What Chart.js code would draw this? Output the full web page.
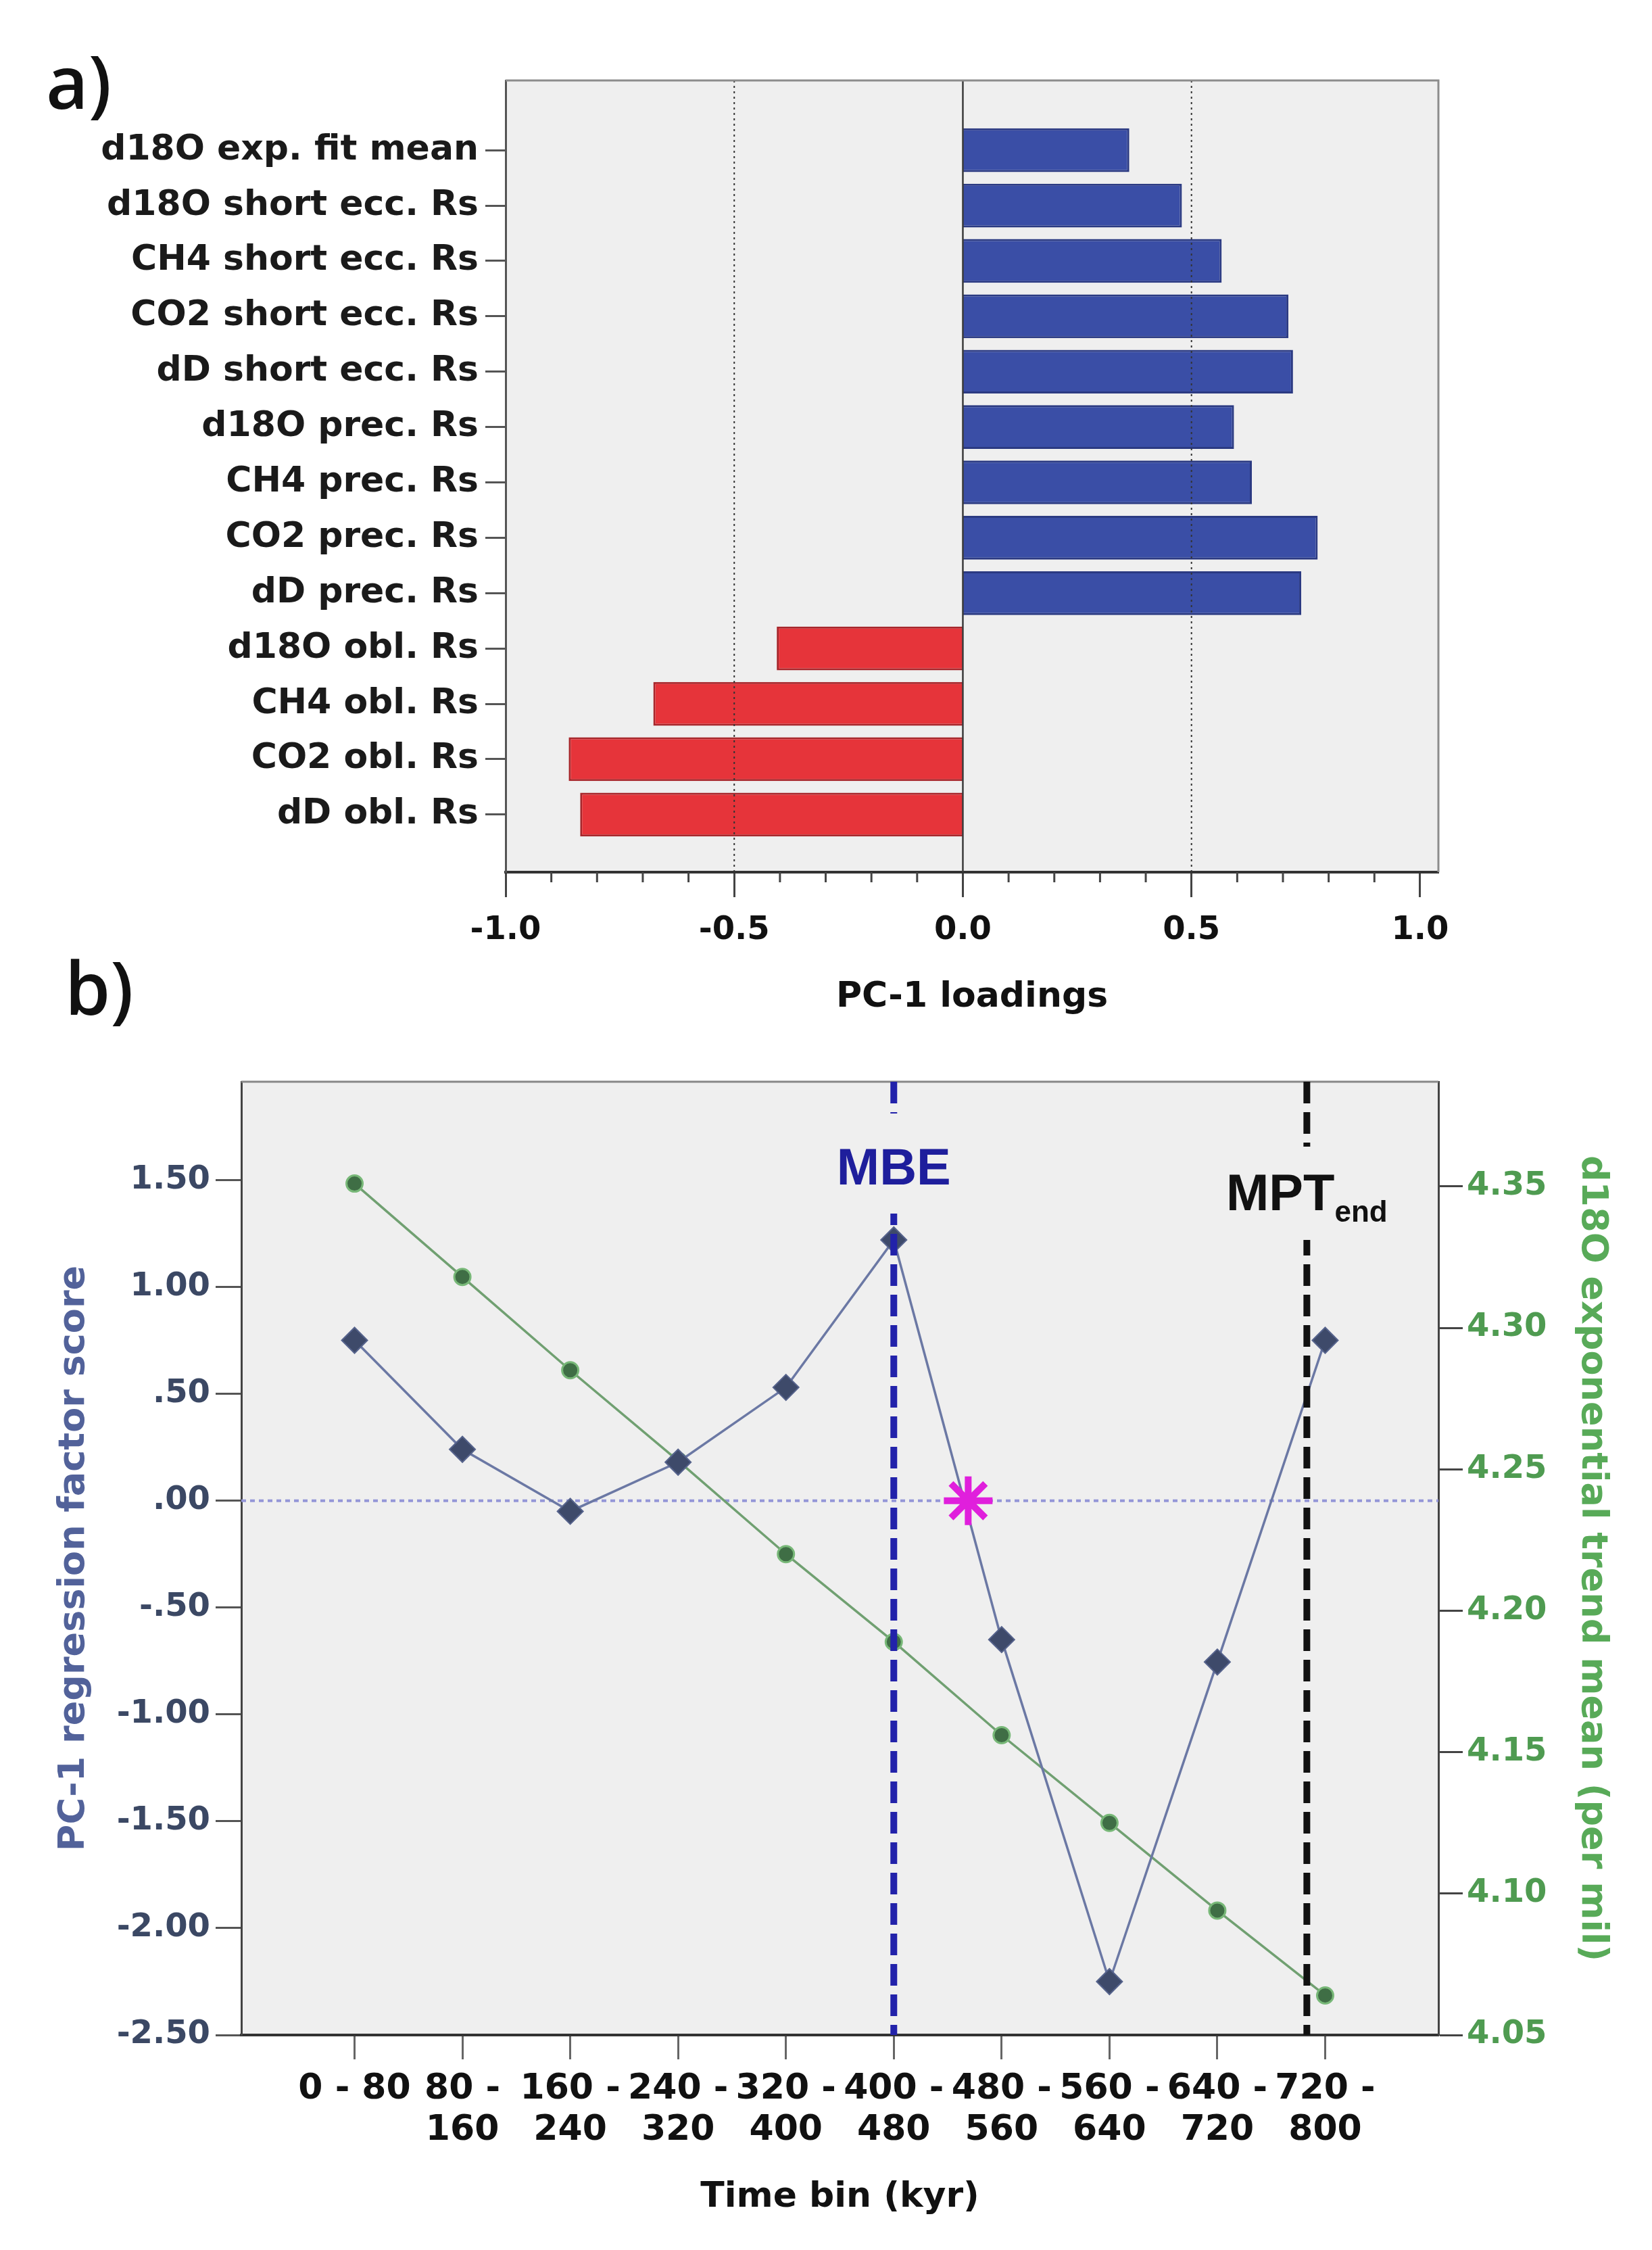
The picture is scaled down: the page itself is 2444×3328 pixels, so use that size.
<!DOCTYPE html>
<html>
<head>
<meta charset="utf-8">
<script src="https://cdn.jsdelivr.net/npm/chart.js@4.4.1/dist/chart.umd.min.js"></script>
<style>
  html, body { margin: 0; padding: 0; background: #fff; }
  body { width: 2444px; height: 3328px; position: relative; overflow: hidden; }
  canvas { position: absolute; left: 0; }
  #chartA { top: 0; }
  #chartB { top: 1540px; }
  .tag { position: absolute; font-family: "Open Sans"; font-weight: 600; font-size: 108px; line-height: 1; color: #111; }
</style>
</head>
<body>
<canvas id="chartA" width="2444" height="1540"></canvas>
<canvas id="chartB" width="2444" height="1788"></canvas>
<div class="tag" style="left:68px; top:66px;">a)</div>
<div class="tag" style="left:96px; top:1406px;">b)</div>
<script>
// panel a: PC-1 loadings
const loadingLabels = ['d18O exp. fit mean', 'd18O short ecc. Rs', 'CH4 short ecc. Rs', 'CO2 short ecc. Rs',
  'dD short ecc. Rs', 'd18O prec. Rs', 'CH4 prec. Rs', 'CO2 prec. Rs', 'dD prec. Rs',
  'd18O obl. Rs', 'CH4 obl. Rs', 'CO2 obl. Rs', 'dD obl. Rs'];
const loadingValues = [0.364, 0.479, 0.566, 0.712, 0.722, 0.593, 0.632, 0.776, 0.740,
  -0.407, -0.677, -0.862, -0.837];
const loadingTicks = [-1.0, -0.5, 0.0, 0.5, 1.0];

// panel b: factor scores per time bin
const timeBins = [['0 - 80'], ['80 -', '160'], ['160 -', '240'], ['240 -', '320'], ['320 -', '400'],
  ['400 -', '480'], ['480 -', '560'], ['560 -', '640'], ['640 -', '720'], ['720 -', '800']];
const pc1Scores = [0.75, 0.24, -0.05, 0.18, 0.53, 1.22, -0.65, -2.25, -0.755, 0.75];
const d18oTrend = [4.351, 4.318, 4.285, 4.253, 4.220, 4.189, 4.156, 4.125, 4.094, 4.064];
const scoreTicks = [-2.5, -2.0, -1.5, -1.0, -0.5, 0.0, 0.5, 1.0, 1.5];
const trendTicks = [4.05, 4.10, 4.15, 4.20, 4.25, 4.30, 4.35];
const mbeBin = 5;
const mptEndBin = 8.83;
const changePoint = [{ x: 5.69, y: 0 }];

const FONT = 'DejaVu Sans';
const LABEL_FONT = 'Liberation Sans';

function spssFmt(v) {
  return v.toFixed(2).replace(/^(-?)0\./, '$1.');
}

function vline(ctx, x, top, bottom) {
  ctx.beginPath();
  ctx.moveTo(x, top);
  ctx.lineTo(x, bottom);
  ctx.stroke();
}

// plot box, reference lines and minor ticks for panel a
const panelAPlugin = {
  id: 'panelA',
  beforeDraw(chart) {
    const { ctx, chartArea: a } = chart;
    ctx.save();
    ctx.fillStyle = '#efefef';
    ctx.fillRect(a.left, a.top, a.width, a.height);
    ctx.restore();
  },
  afterDatasetsDraw(chart) {
    const { ctx, chartArea: a, scales: { x } } = chart;
    ctx.save();
    ctx.strokeStyle = '#333';
    ctx.lineWidth = 2;
    ctx.setLineDash([3, 5]);
    [-0.5, 0.5].forEach(v => vline(ctx, x.getPixelForValue(v), a.top, a.bottom));
    ctx.setLineDash([]);
    ctx.strokeStyle = '#3a3a3a';
    ctx.lineWidth = 2.5;
    vline(ctx, x.getPixelForValue(0), a.top, a.bottom);

    ctx.strokeStyle = '#8c8c8c';
    ctx.lineWidth = 3;
    ctx.beginPath();
    ctx.moveTo(a.left, a.top);
    ctx.lineTo(a.right, a.top);
    ctx.lineTo(a.right, a.bottom);
    ctx.stroke();

    // minor ticks every 0.1
    ctx.strokeStyle = '#444';
    ctx.lineWidth = 3;
    for (let k = 0; k <= 20; k++) {
      if (k % 5 === 0) continue;
      const px = x.getPixelForValue(-1 + k * 0.1);
      vline(ctx, px, a.bottom, a.bottom + 15);
    }
    ctx.restore();
  }
};

new Chart(document.getElementById('chartA'), {
  type: 'bar',
  data: {
    datasets: [{
      data: loadingValues.map((v, i) => ({ x: v, y: i })),
      backgroundColor: loadingValues.map(v => v >= 0 ? '#3a4ea6' : '#e6343a'),
      borderColor: loadingValues.map(v => v >= 0 ? '#2b3a82' : '#a8262b'),
      borderWidth: 3,
      barPercentage: 0.79,
      categoryPercentage: 1
    }]
  },
  options: {
    indexAxis: 'y',
    responsive: false,
    animation: false,
    devicePixelRatio: 1,
    layout: { padding: { left: 0, top: 119, right: 316, bottom: 0 } },
    plugins: { legend: { display: false }, tooltip: { enabled: false } },
    scales: {
      x: {
        type: 'linear',
        min: -1,
        max: 1.04,
        afterBuildTicks: s => { s.ticks = loadingTicks.map(v => ({ value: v })); },
        ticks: {
          callback: v => v.toFixed(1),
          font: { family: FONT, weight: 'bold', size: 48 },
          color: '#111',
          padding: 21,
          maxRotation: 0,
          autoSkip: false
        },
        grid: { drawOnChartArea: false, drawTicks: true, tickLength: 37, tickColor: '#444', tickWidth: 3 },
        border: { display: true, color: '#333', width: 4 },
        title: {
          display: true,
          text: 'PC-1 loadings',
          color: '#111',
          font: { family: FONT, weight: 'bold', size: 52 },
          padding: { top: 0, bottom: 33 }
        },
        afterFit: s => { s.height = 250; }
      },
      y: {
        type: 'linear',
        reverse: true,
        offset: false,
        min: -1.26,
        max: 13.04,
        afterBuildTicks: s => { s.ticks = loadingLabels.map((_, i) => ({ value: i })); },
        ticks: {
          callback: v => loadingLabels[v],
          font: { family: FONT, weight: 'bold', size: 52 },
          color: '#1a1a1a',
          padding: 10,
          autoSkip: false
        },
        grid: { offset: false, drawOnChartArea: false, drawTicks: true, tickLength: 30, tickColor: '#555', tickWidth: 3 },
        border: { display: true, color: '#555', width: 3 },
        afterFit: s => { s.width = 748; }
      }
    }
  },
  plugins: [panelAPlugin]
});

// plot box, zero line and event markers for panel b
const panelBPlugin = {
  id: 'panelB',
  beforeDraw(chart) {
    const { ctx, chartArea: a } = chart;
    ctx.save();
    ctx.fillStyle = '#efefef';
    ctx.fillRect(a.left, a.top, a.width, a.height);
    ctx.restore();
  },
  beforeDatasetsDraw(chart) {
    const { ctx, chartArea: a, scales: { y } } = chart;
    const py = y.getPixelForValue(0);
    ctx.save();
    ctx.strokeStyle = '#9496d8';
    ctx.lineWidth = 4;
    ctx.setLineDash([7, 6]);
    ctx.beginPath();
    ctx.moveTo(a.left, py);
    ctx.lineTo(a.right, py);
    ctx.stroke();
    ctx.restore();
  },
  afterDatasetsDraw(chart) {
    const { ctx, chartArea: a, scales: { x } } = chart;
    ctx.save();
    ctx.strokeStyle = '#888';
    ctx.lineWidth = 3;
    ctx.beginPath();
    ctx.moveTo(a.left, a.top);
    ctx.lineTo(a.right, a.top);
    ctx.stroke();

    ctx.lineWidth = 10;
    ctx.setLineDash([32, 13]);
    const xm = x.getPixelForValue(mbeBin);
    ctx.strokeStyle = '#2222aa';
    vline(ctx, xm, a.top, a.bottom);
    const xp = x.getPixelForValue(mptEndBin);
    ctx.strokeStyle = '#111';
    vline(ctx, xp, a.top, a.bottom);
    ctx.setLineDash([]);

    // labels with a gap cut in the line
    ctx.textBaseline = 'alphabetic';
    ctx.font = 'bold 76px "' + LABEL_FONT + '"';
    const mbeW = ctx.measureText('MBE').width;
    ctx.fillStyle = '#efefef';
    ctx.fillRect(xm - mbeW / 2 - 6, a.top + 47, mbeW + 12, 148);
    ctx.fillStyle = '#1e1e9c';
    ctx.textAlign = 'left';
    ctx.fillText('MBE', xm - mbeW / 2, a.top + 152);

    const mptW = ctx.measureText('MPT').width;
    ctx.font = 'bold 44px "' + LABEL_FONT + '"';
    const endW = ctx.measureText('end').width;
    const startX = xp - (mptW + endW) / 2;
    ctx.fillStyle = '#efefef';
    ctx.fillRect(startX - 6, a.top + 96, mptW + endW + 12, 138);
    ctx.fillStyle = '#111';
    ctx.font = 'bold 76px "' + LABEL_FONT + '"';
    ctx.fillText('MPT', startX, a.top + 190);
    ctx.font = 'bold 44px "' + LABEL_FONT + '"';
    ctx.fillText('end', startX + mptW, a.top + 207);
    ctx.restore();
  }
};

new Chart(document.getElementById('chartB'), {
  type: 'line',
  data: {
    datasets: [
      {
        data: changePoint,
        yAxisID: 'y',
        showLine: false,
        pointStyle: 'star',
        pointRadius: 36,
        pointBorderWidth: 10,
        pointBorderColor: '#e01fdc',
        pointBackgroundColor: '#e01fdc',
        order: 0
      },
      {
        data: pc1Scores.map((v, i) => ({ x: i, y: v })),
        yAxisID: 'y',
        borderColor: '#6b78a4',
        borderWidth: 3.5,
        pointStyle: 'rectRot',
        pointRadius: 19,
        pointBackgroundColor: '#3e4a6a',
        pointBorderColor: '#56638c',
        pointBorderWidth: 2,
        order: 1
      },
      {
        data: d18oTrend.map((v, i) => ({ x: i, y: v })),
        yAxisID: 'y2',
        borderColor: '#70a071',
        borderWidth: 3.5,
        pointStyle: 'circle',
        pointRadius: 12,
        pointBackgroundColor: '#3f6e45',
        pointBorderColor: '#78b878',
        pointBorderWidth: 3,
        order: 2
      }
    ]
  },
  options: {
    responsive: false,
    animation: false,
    devicePixelRatio: 1,
    layout: { padding: { left: 0, top: 60, right: 0, bottom: 0 } },
    plugins: { legend: { display: false }, tooltip: { enabled: false } },
    scales: {
      x: {
        type: 'linear',
        min: -1.05,
        max: 10.05,
        afterBuildTicks: s => { s.ticks = timeBins.map((_, i) => ({ value: i })); },
        ticks: {
          callback: v => timeBins[v],
          font: { family: FONT, weight: 'bold', size: 52, lineHeight: 1.17 },
          color: '#111',
          padding: 14,
          maxRotation: 0,
          autoSkip: false
        },
        grid: { drawOnChartArea: false, drawTicks: true, tickLength: 36, tickColor: '#666', tickWidth: 3 },
        border: { display: true, color: '#333', width: 4 },
        title: {
          display: true,
          text: 'Time bin (kyr)',
          color: '#111',
          font: { family: FONT, weight: 'bold', size: 52 },
          padding: { top: 0, bottom: 46 }
        },
        afterFit: s => { s.height = 318; }
      },
      y: {
        position: 'left',
        min: -2.5,
        max: 1.96,
        afterBuildTicks: s => { s.ticks = scoreTicks.map(v => ({ value: v })); },
        ticks: {
          callback: v => spssFmt(v),
          font: { family: FONT, weight: 'bold', size: 48 },
          color: '#3b4864',
          padding: 8
        },
        grid: { drawOnChartArea: false, drawTicks: true, tickLength: 38, tickColor: '#555', tickWidth: 3 },
        border: { display: true, color: '#444', width: 3 },
        title: {
          display: true,
          text: 'PC-1 regression factor score',
          color: '#52629a',
          font: { family: FONT, weight: 'bold', size: 54 },
          padding: { top: 78, bottom: 0 }
        },
        afterFit: s => { s.width = 357; }
      },
      y2: {
        position: 'right',
        min: 4.05,
        max: 4.387,
        afterBuildTicks: s => { s.ticks = trendTicks.map(v => ({ value: v })); },
        ticks: {
          callback: v => v.toFixed(2),
          font: { family: FONT, weight: 'bold', size: 48 },
          color: '#4f9b51',
          padding: 6
        },
        grid: { drawOnChartArea: false, drawTicks: true, tickLength: 36, tickColor: '#444', tickWidth: 3 },
        border: { display: true, color: '#444', width: 3 },
        title: {
          display: true,
          text: 'd18O exponential trend mean (per mil)',
          color: '#58aa58',
          font: { family: FONT, weight: 'bold', size: 54 },
          padding: { top: 57, bottom: 0 }
        },
        afterFit: s => { s.width = 316; }
      }
    }
  },
  plugins: [panelBPlugin]
});
</script>
</body>
</html>
